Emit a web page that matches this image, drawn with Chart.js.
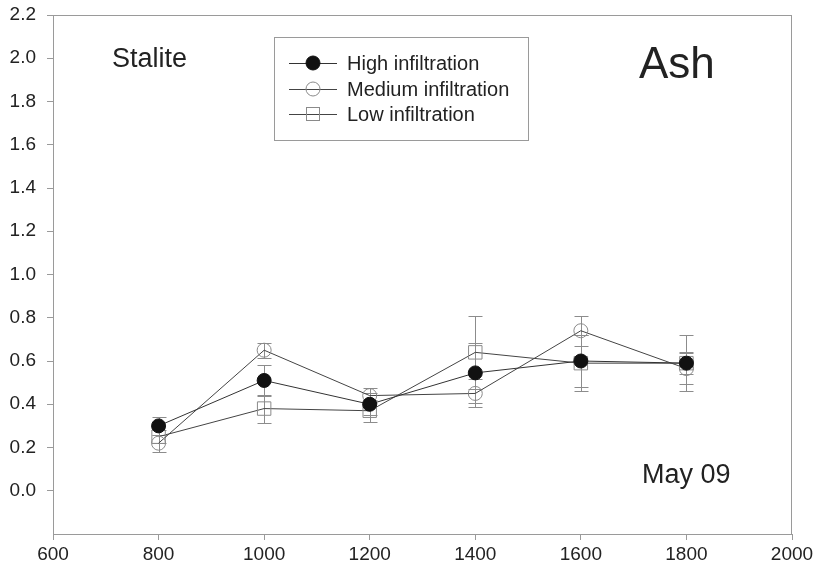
<!DOCTYPE html>
<html>
<head>
<meta charset="utf-8">
<script src="https://cdn.jsdelivr.net/npm/chart.js@4.4.1/dist/chart.umd.min.js"></script>
<style>
    html, body { margin: 0; padding: 0; background: #fff; }
    #wrap { width: 818px; height: 574px; }
</style>
</head>
<body>
<div id="wrap"><canvas id="chart" width="818" height="574"></canvas></div>
<script>
const depths = [800, 1000, 1200, 1400, 1600, 1800];

const highVals = [0.30, 0.51, 0.40, 0.545, 0.60, 0.59];
const highErr  = [0.04, 0.07, 0.05, 0.14, 0.12, 0.13];

const mediumVals = [0.22, 0.65, 0.44, 0.45, 0.74, 0.565];
const mediumErr  = [0.04, 0.035, 0.035, 0.065, 0.07, 0.07];

const lowVals = [0.25, 0.38, 0.37, 0.64, 0.59, 0.59];
const lowErr  = [0.03, 0.065, 0.05, 0.17, 0.13, 0.05];

const xTicks = [600, 800, 1000, 1200, 1400, 1600, 1800, 2000];
const yTicks = [0.0, 0.2, 0.4, 0.6, 0.8, 1.0, 1.2, 1.4, 1.6, 1.8, 2.0, 2.2];

const FONT = "'Liberation Sans', Arial, sans-serif";
const AXIS_GRAY = '#9a9a9a';

function toPoints(vals) {
    return vals.map((v, i) => ({ x: depths[i], y: v }));
}

const errorBars = {
    id: 'errorBars',
    beforeDatasetsDraw(chart) {
        const { ctx, scales: { x, y } } = chart;
        ctx.save();
        ctx.strokeStyle = '#8c8c8c';
        ctx.lineWidth = 1;
        chart.data.datasets.forEach(ds => {
            ds.data.forEach((p, i) => {
                const px = Math.round(x.getPixelForValue(p.x)) + 0.5;
                const top = Math.round(y.getPixelForValue(p.y + ds.err[i])) + 0.5;
                const bot = Math.round(y.getPixelForValue(p.y - ds.err[i])) + 0.5;
                ctx.beginPath();
                ctx.moveTo(px, top); ctx.lineTo(px, bot);
                ctx.moveTo(px - 7, top); ctx.lineTo(px + 7, top);
                ctx.moveTo(px - 7, bot); ctx.lineTo(px + 7, bot);
                ctx.stroke();
            });
        });
        ctx.restore();
    }
};

const frameAndText = {
    id: 'frameAndText',
    afterDraw(chart) {
        const { ctx, chartArea: a } = chart;
        ctx.save();
        ctx.strokeStyle = AXIS_GRAY;
        ctx.lineWidth = 1;
        ctx.strokeRect(Math.round(a.left) + 0.5, Math.round(a.top) + 0.5,
            Math.round(a.right - a.left) - 1, Math.round(a.bottom - a.top));

        ctx.fillStyle = '#222';
        ctx.textBaseline = 'middle';
        ctx.textAlign = 'left';
        ctx.font = `27px ${FONT}`;
        ctx.fillText('Stalite', 112, 60);
        ctx.font = `44px ${FONT}`;
        ctx.fillText('Ash', 639, 66);
        ctx.font = `27px ${FONT}`;
        ctx.fillText('May 09', 642, 476);

        // legend box
        ctx.strokeStyle = AXIS_GRAY;
        ctx.strokeRect(274.5, 37.5, 254, 103);
        const rows = [63, 89, 114];
        ctx.font = `20px ${FONT}`;
        chart.data.datasets.forEach((ds, i) => {
            const cy = rows[i];
            ctx.strokeStyle = ds.borderColor;
            ctx.beginPath();
            ctx.moveTo(289, cy + 0.5); ctx.lineTo(337, cy + 0.5);
            ctx.stroke();
            ctx.fillStyle = ds.pointBackgroundColor;
            ctx.strokeStyle = ds.pointBorderColor;
            if (ds.pointStyle === 'rect') {
                ctx.fillRect(306.5, cy - 6.5, 13, 13);
                ctx.strokeRect(306.5, cy - 6.5, 13, 13);
            } else {
                ctx.beginPath();
                ctx.arc(313, cy, ds.pointRadius, 0, Math.PI * 2);
                ctx.fill();
                ctx.stroke();
            }
            ctx.fillStyle = '#222';
            ctx.fillText(ds.label, 347, cy + 1);
        });
        ctx.restore();
    }
};

new Chart(document.getElementById('chart'), {
    type: 'line',
    data: {
        datasets: [
            {
                label: 'High infiltration',
                data: toPoints(highVals),
                err: highErr,
                borderColor: '#333',
                borderWidth: 1,
                pointStyle: 'circle',
                pointRadius: 7,
                pointBackgroundColor: '#111',
                pointBorderColor: '#111'
            },
            {
                label: 'Medium infiltration',
                data: toPoints(mediumVals),
                err: mediumErr,
                borderColor: '#444',
                borderWidth: 1,
                pointStyle: 'circle',
                pointRadius: 7,
                pointBackgroundColor: 'rgba(255,255,255,0)',
                pointBorderColor: '#8a8a8a'
            },
            {
                label: 'Low infiltration',
                data: toPoints(lowVals),
                err: lowErr,
                borderColor: '#444',
                borderWidth: 1,
                pointStyle: 'rect',
                pointRadius: 9.5,
                pointBackgroundColor: 'rgba(255,255,255,0)',
                pointBorderColor: '#8a8a8a'
            }
        ]
    },
    options: {
        responsive: false,
        animation: false,
        layout: { padding: { top: 15, right: 26, left: 0, bottom: 0 } },
        plugins: { legend: { display: false }, tooltip: { enabled: false } },
        elements: { line: { tension: 0 }, point: { borderWidth: 1 } },
        scales: {
            x: {
                type: 'linear',
                min: 600,
                max: 2000,
                afterBuildTicks: s => { s.ticks = xTicks.map(v => ({ value: v })); },
                afterFit: s => { s.height = 40; s.paddingLeft = 0; s.paddingRight = 0; },
                border: { display: false },
                grid: { drawOnChartArea: false, drawTicks: true, tickLength: 6, color: AXIS_GRAY },
                ticks: { color: '#222', font: { family: FONT, size: 19 }, padding: 3, maxRotation: 0,
                    callback: v => String(v) }
            },
            y: {
                type: 'linear',
                min: -0.2,
                max: 2.2,
                afterBuildTicks: s => { s.ticks = yTicks.map(v => ({ value: v })); },
                afterFit: s => { s.width = 53; s.paddingTop = 0; s.paddingBottom = 0; },
                border: { display: false },
                grid: { drawOnChartArea: false, drawTicks: true, tickLength: 6, color: AXIS_GRAY },
                ticks: { color: '#222', font: { family: FONT, size: 19 }, padding: 11,
                    callback: v => v.toFixed(1) }
            }
        }
    },
    plugins: [errorBars, frameAndText]
});
</script>
</body>
</html>
